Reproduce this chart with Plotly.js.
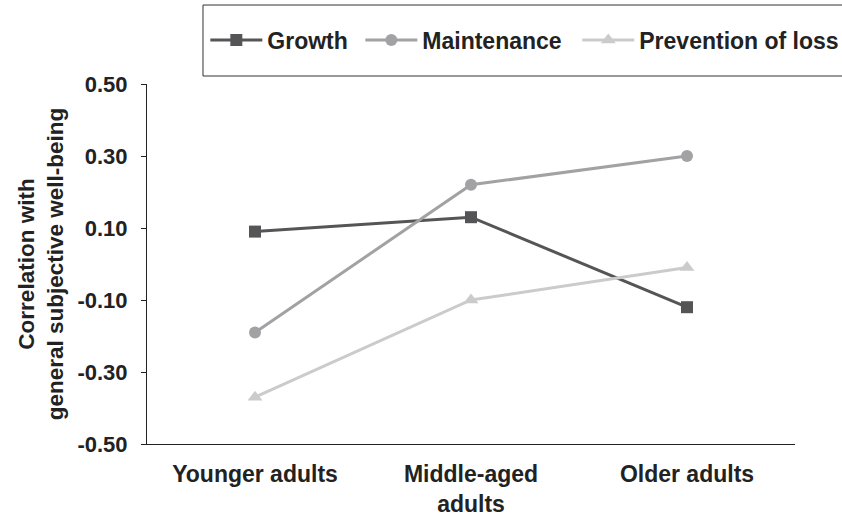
<!DOCTYPE html>
<html>
<head>
<meta charset="utf-8">
<script src="https://cdn.plot.ly/plotly-3.0.1.min.js"></script>
<style>
  html, body { margin: 0; padding: 0; background: #fff; }
  #chart { width: 842px; height: 518px; }
</style>
</head>
<body>
<div id="chart"></div>
<script>
const categories = ["Younger adults", "Middle-aged<br>adults", "Older adults"];
const growth = [0.09, 0.13, -0.12];
const maintenance = [-0.19, 0.22, 0.30];
const prevention = [-0.37, -0.10, -0.01];
const seriesNames = ["Growth", "Maintenance", "Prevention of loss"];
const yTickVals = [-0.5, -0.3, -0.1, 0.1, 0.3, 0.5];
const yTickText = ["-0.50", "-0.30", "-0.10", "0.10", "0.30", "0.50"];

const FONT = "Liberation Sans, Arial, sans-serif";

const traces = [
  {
    x: categories, y: growth, name: seriesNames[0], type: "scatter", mode: "lines+markers",
    legend: "legend",
    line: { color: "#555557", width: 3 },
    marker: { symbol: "square", size: 12, color: "#555557" }
  },
  {
    x: categories, y: maintenance, name: seriesNames[1], type: "scatter", mode: "lines+markers",
    legend: "legend2",
    line: { color: "#a2a2a4", width: 3 },
    marker: { symbol: "circle", size: 12, color: "#a2a2a4" }
  },
  {
    x: categories, y: prevention, name: seriesNames[2], type: "scatter", mode: "lines+markers",
    legend: "legend3",
    line: { color: "#cbcbcb", width: 3 },
    marker: { symbol: "triangle-up", size: 13, color: "#cbcbcb" }
  }
];

function legendAt(xPaper) {
  return {
    orientation: "h",
    x: xPaper, xanchor: "left",
    y: 1.122, yanchor: "middle",
    font: { family: FONT, size: 23, color: "#222", weight: "bold" },
    itemwidth: 52,
    bgcolor: "rgba(0,0,0,0)",
    borderwidth: 0
  };
}

const layout = {
  width: 842, height: 518,
  margin: { l: 147, r: 47, t: 84, b: 74, autoexpand: false },
  paper_bgcolor: "#fff", plot_bgcolor: "#fff",
  font: { family: FONT, size: 22, color: "#222" },
  showlegend: true,
  legend: legendAt(0.09),
  legend2: legendAt(0.3292),
  legend3: legendAt(0.6640),
  xaxis: {
    type: "category",
    range: [-0.5, 2.5],
    showline: true, linecolor: "#222", linewidth: 1,
    showgrid: false, zeroline: false,
    ticks: "", ticklabelstandoff: 9,
    tickfont: { family: FONT, size: 23, color: "#222", weight: "bold" },
    fixedrange: true
  },
  yaxis: {
    range: [-0.5, 0.5],
    tickvals: yTickVals, ticktext: yTickText,
    showline: true, linecolor: "#222", linewidth: 1,
    showgrid: false, zeroline: false,
    ticks: "outside", ticklen: 5, tickcolor: "#222",
    ticklabelstandoff: 9,
    tickfont: { family: FONT, size: 22, color: "#222", weight: "bold" },
    title: {
      text: "Correlation with<br>general subjective well-being",
      font: { family: FONT, size: 22.5, color: "#222", weight: "bold" },
      standoff: 7
    },
    fixedrange: true
  },
  shapes: [
    {
      type: "rect", xref: "paper", yref: "paper",
      x0: 0.0864, x1: 1.12, y0: 1.0222, y1: 1.2194,
      line: { color: "#333", width: 1 }, fillcolor: "rgba(0,0,0,0)"
    }
  ]
};

Plotly.newPlot("chart", traces, layout, { displayModeBar: false, staticPlot: true });
</script>
</body>
</html>
